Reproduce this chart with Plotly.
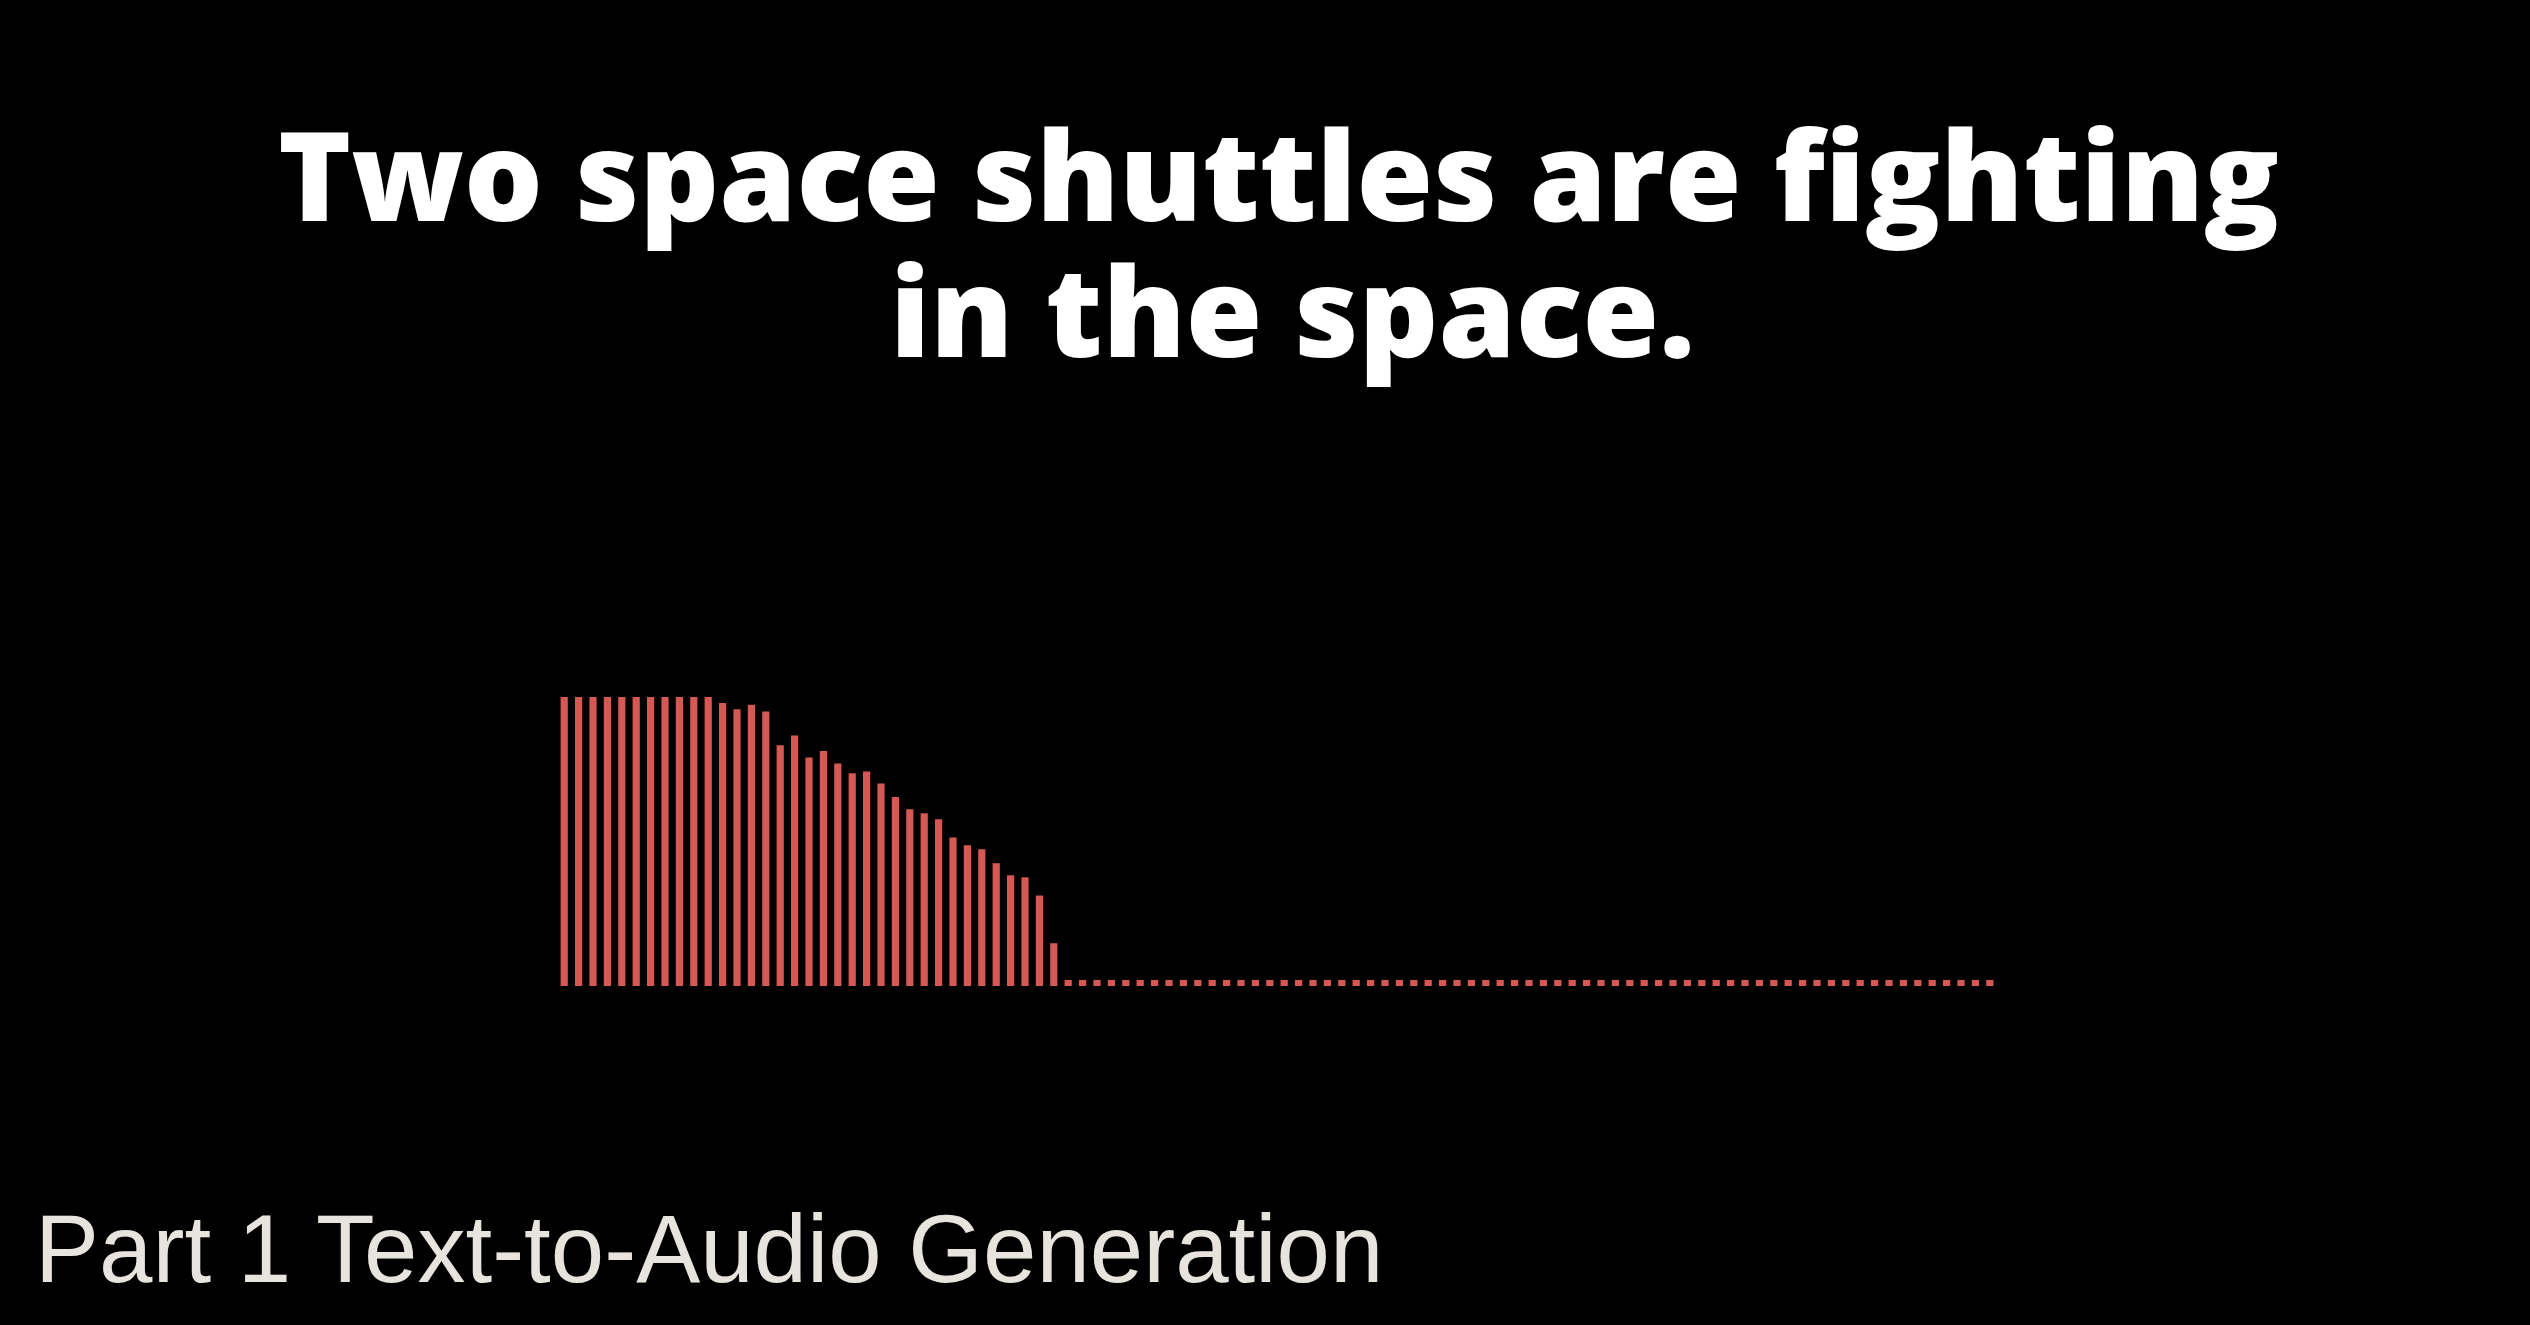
import plotly.graph_objects as go

# ---- data ----
frame_index = list(range(1, 101))
amplitude = [
    1.0, 1.0, 1.0, 1.0, 1.0, 1.0, 1.0, 1.0, 1.0, 1.0,
    1.0, 0.979, 0.958, 0.973, 0.950, 0.833, 0.867, 0.791, 0.813, 0.770,
    0.736, 0.742, 0.701, 0.654, 0.612, 0.598, 0.577, 0.514, 0.487, 0.473,
    0.425, 0.383, 0.376, 0.313, 0.148, 0.021, 0.021, 0.021, 0.021, 0.021,
    0.021, 0.021, 0.021, 0.021, 0.021, 0.021, 0.021, 0.021, 0.021, 0.021,
    0.021, 0.021, 0.021, 0.021, 0.021, 0.021, 0.021, 0.021, 0.021, 0.021,
    0.021, 0.021, 0.021, 0.021, 0.021, 0.021, 0.021, 0.021, 0.021, 0.021,
    0.021, 0.021, 0.021, 0.021, 0.021, 0.021, 0.021, 0.021, 0.021, 0.021,
    0.021, 0.021, 0.021, 0.021, 0.021, 0.021, 0.021, 0.021, 0.021, 0.021,
    0.021, 0.021, 0.021, 0.021, 0.021, 0.021, 0.021, 0.021, 0.021, 0.021,
]
title_lines = ["Two space shuttles are fighting", "in the space."]
footer_text = "Part 1 Text-to-Audio Generation"

# ---- layout geometry (pixels) ----
W, H = 2530, 1325
L, R = 556.5, 1997.1
T, B = 697.3, 986.0


def px(x):
    return (x - L) / (R - L)


def py(y):
    return (B - y) / (B - T)


fig = go.Figure()
fig.add_trace(go.Bar(
    x=frame_index, y=amplitude,
    marker=dict(color="rgb(214,88,84)", line=dict(width=0)),
    hoverinfo="skip",
))

title_font = dict(family="Open Sans", size=124, color="white", weight=800)
annotations = [
    dict(text=title_lines[0], x=px(1278), y=py(173),
         xref="paper", yref="paper", xanchor="center", yanchor="middle",
         showarrow=False, font=title_font),
    dict(text=title_lines[1], x=px(1292), y=py(309),
         xref="paper", yref="paper", xanchor="center", yanchor="middle",
         showarrow=False, font=title_font),
    dict(text=footer_text, x=px(32), y=py(1248),
         xref="paper", yref="paper", xanchor="left", yanchor="middle",
         showarrow=False,
         font=dict(family="Liberation Sans", size=96, color="#e6e4dc")),
]

fig.update_layout(
    width=W, height=H,
    margin=dict(l=L, r=W - R, t=T, b=H - B, pad=0),
    paper_bgcolor="black", plot_bgcolor="black",
    bargap=0.5, showlegend=False,
    xaxis=dict(range=[0.5, 100.5], visible=False, fixedrange=True),
    yaxis=dict(range=[0, 1], visible=False, fixedrange=True),
    annotations=annotations,
)

fig.write_html("out.html", config={"displayModeBar": False},
               post_script="document.body.style.margin='0';document.body.style.background='black';document.body.style.overflow='hidden';")
